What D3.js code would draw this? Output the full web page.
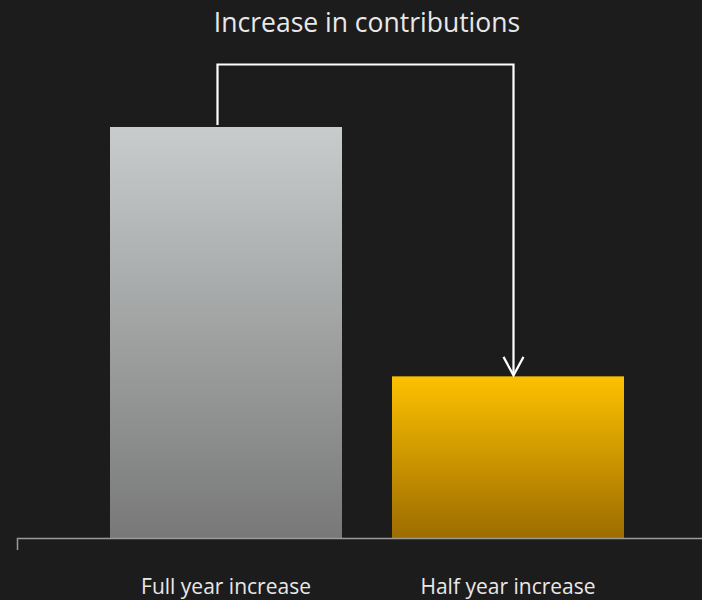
<!DOCTYPE html>
<html>
<head>
<meta charset="utf-8">
<script src="https://cdn.jsdelivr.net/npm/d3@7"></script>
<style>
  html, body { margin: 0; padding: 0; background: #1c1c1c; }
  svg { display: block; }
</style>
</head>
<body>
<script>
// Chart data
const categories = ["Full year increase", "Half year increase"];
const values = [100, 39.4];
const title = "Increase in contributions";

const width = 702, height = 600;
const baselineY = 538.5;

const svg = d3.select("body").append("svg")
  .attr("width", width)
  .attr("height", height)
  .style("background", "#1c1c1c");

const x = d3.scaleBand()
  .domain(categories)
  .range([85, 649])
  .paddingInner(50 / 282)
  .paddingOuter(25 / 282);

const y = d3.scaleLinear()
  .domain([0, 100])
  .range([baselineY, 127]);

// Vertical gradients for the two bars
const defs = svg.append("defs");
const gradients = [
  { id: "gradGrey", top: "#c8cccc", bottom: "#787878" },
  { id: "gradGold", top: "#fdc100", bottom: "#9c6c00" }
];
gradients.forEach(g => {
  const lg = defs.append("linearGradient")
    .attr("id", g.id)
    .attr("x1", 0).attr("y1", 0).attr("x2", 0).attr("y2", 1);
  lg.append("stop").attr("offset", "0%").attr("stop-color", g.top);
  lg.append("stop").attr("offset", "100%").attr("stop-color", g.bottom);
});

// Bars
svg.append("g").selectAll("rect")
  .data(categories)
  .join("rect")
  .attr("x", d => x(d))
  .attr("width", x.bandwidth())
  .attr("y", (d, i) => y(values[i]))
  .attr("height", (d, i) => y(0) - y(values[i]))
  .attr("fill", (d, i) => `url(#${gradients[i].id})`);

// Baseline with a short tick at its left end
svg.append("path")
  .attr("d", `M17.5,550 V${baselineY} H${width}`)
  .attr("fill", "none")
  .attr("stroke", "#9a9a9a")
  .attr("stroke-width", 1.5);

// Category labels
const axis = d3.axisBottom(x).tickSize(0).tickPadding(0);
const axisG = svg.append("g")
  .attr("transform", `translate(0,${baselineY})`)
  .call(axis);
axisG.select(".domain").remove();
axisG.selectAll("text")
  .attr("dy", null)
  .attr("y", 55.5)
  .attr("fill", "#e8e8e8")
  .style("font-family", "'Open Sans', sans-serif")
  .style("font-size", "21px");

// Title
svg.append("text")
  .attr("x", 367)
  .attr("y", 32)
  .attr("text-anchor", "middle")
  .attr("fill", "#e8e8e8")
  .style("font-family", "'Open Sans', sans-serif")
  .style("font-size", "26.5px")
  .text(title);

// Connector arrow from the full-year bar down to the half-year bar
const xa = x(categories[0]) + x.bandwidth() / 2 - 8.5;
const xb = x(categories[1]) + x.bandwidth() / 2 + 5.5;
const ya = y(values[0]) - 2;
const yb = y(values[1]) - 1;
const topY = 64.5;

svg.append("path")
  .attr("d", `M${xa},${ya} V${topY} H${xb} V${yb}`)
  .attr("fill", "none")
  .attr("stroke", "#ffffff")
  .attr("stroke-width", 2.2);

svg.append("path")
  .attr("d", `M${xb - 10},${yb - 18.5} L${xb},${yb} L${xb + 10},${yb - 18.5}`)
  .attr("fill", "none")
  .attr("stroke", "#ffffff")
  .attr("stroke-width", 2.2);
</script>
</body>
</html>
